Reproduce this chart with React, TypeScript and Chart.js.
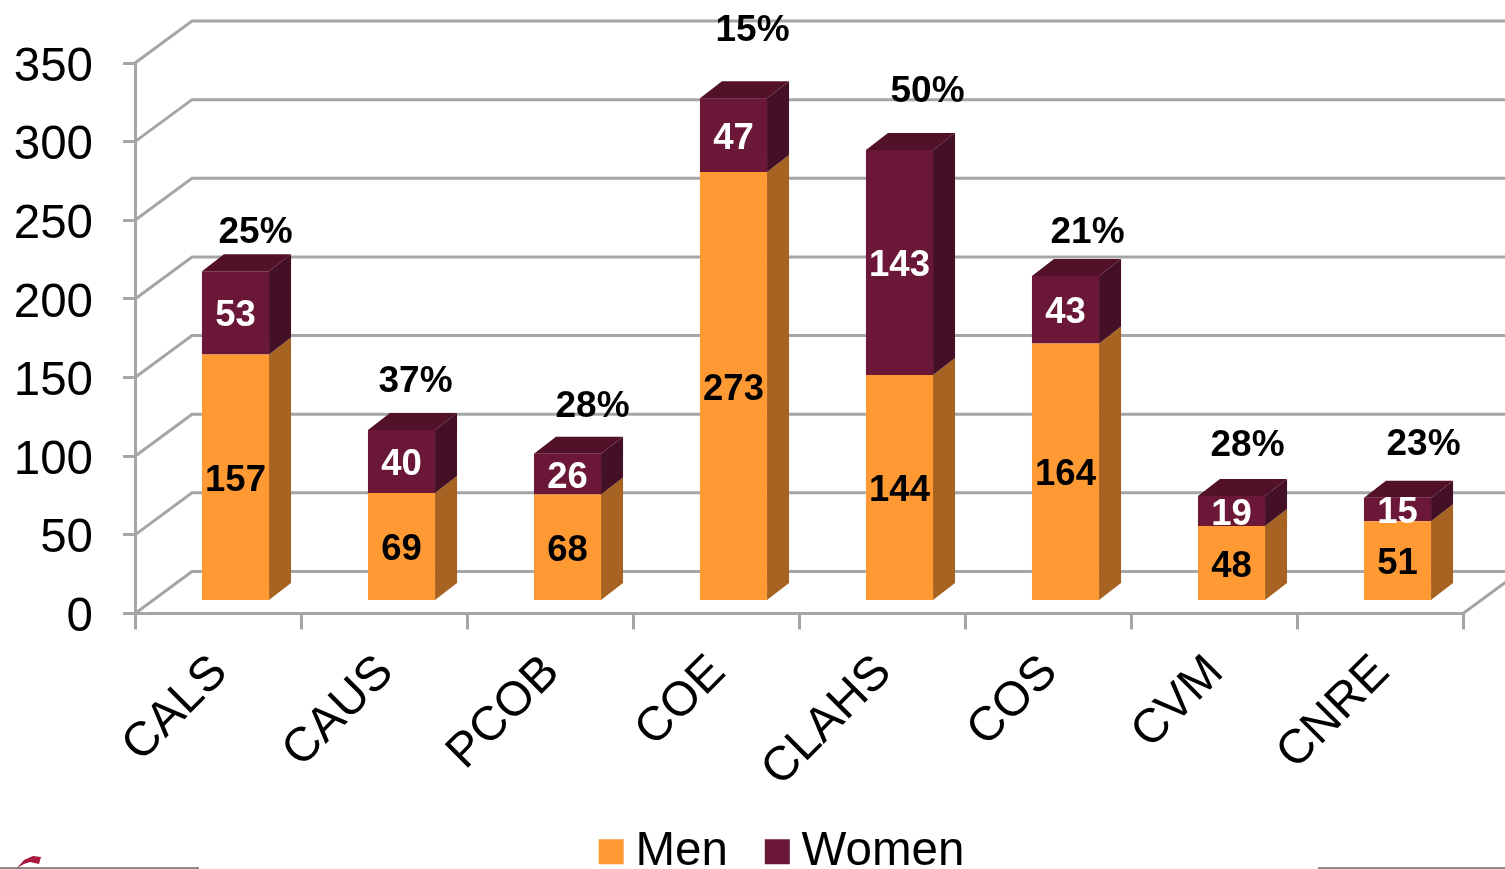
import React, { useEffect, useRef } from "react";
import { Chart, registerables } from "chart.js";

Chart.register(...registerables);

const categories = ["CALS", "CAUS", "PCOB", "COE", "CLAHS", "COS", "CVM", "CNRE"];
const men = [157, 69, 68, 273, 144, 164, 48, 51];
const women = [53, 40, 26, 47, 143, 43, 19, 15];
const womenShare = ["25%", "37%", "28%", "15%", "50%", "21%", "28%", "23%"];
// hand-placed share labels: offset from the back edge of each stack top
const shareOffsetX = [-2, -8, 3, -3, 6, 0, -6, 4];
const shareOffsetY = [-22, -32.5, -31, -51.5, -42.5, -27, -34.5, -37];

const FONT = '"Liberation Sans", Arial, sans-serif';
const GRID = "#A6A6A6";
const ORANGE = "#FF9933";
const ORANGE_SIDE = "#A66321";
const MAROON = "#6B1737";
const MAROON_SIDE = "#431026";
const MAROON_TOP = "#531129";

const WALL_DX = 57, WALL_DY = -42; // depth of the chart box
const BAR_SHIFT_X = 17.5, BAR_SHIFT_Y = -12; // bars stand inside the box
const BAR_DX = 22, BAR_DY = -17; // depth of a bar

function poly(ctx: CanvasRenderingContext2D, pts: number[][], fill: string) {
  ctx.beginPath();
  pts.forEach((p, i) => (i ? ctx.lineTo(p[0], p[1]) : ctx.moveTo(p[0], p[1])));
  ctx.closePath();
  ctx.fillStyle = fill;
  ctx.fill();
}

const box3d = {
  id: "box3d",
  afterLayout(chart: any) {
    // the legend sits off-centre, low on the page, over the foot of the x scale
    chart.legend.left = 112;
    chart.legend.top = 779;
    chart.legend.bottom = 887;
  },
  beforeDatasetsDraw(chart: any) {
    const { ctx, scales, chartArea } = chart;
    const y = scales.y;
    ctx.save();
    ctx.strokeStyle = GRID;
    ctx.lineWidth = 3;
    y.ticks.forEach((t: any) => {
      const py = y.getPixelForValue(t.value);
      ctx.beginPath();
      ctx.moveTo(chartArea.left, py);
      ctx.lineTo(chartArea.left + WALL_DX, py + WALL_DY);
      ctx.lineTo(chart.width + 2, py + WALL_DY);
      ctx.stroke();
    });
    // floor edge on the right side
    ctx.beginPath();
    ctx.moveTo(chartArea.right, chartArea.bottom);
    ctx.lineTo(chartArea.right + WALL_DX, chartArea.bottom + WALL_DY);
    ctx.stroke();
    ctx.restore();

    // side and top faces
    const m0 = chart.getDatasetMeta(0).data;
    const m1 = chart.getDatasetMeta(1).data;
    m0.forEach((bar0: any, i: number) => {
      const bar1 = m1[i];
      const r = bar0.x + bar0.width / 2 + BAR_SHIFT_X;
      const l = bar0.x - bar0.width / 2 + BAR_SHIFT_X;
      const yB = bar0.base + BAR_SHIFT_Y;
      const yM = bar0.y + BAR_SHIFT_Y;
      const yT = bar1.y + BAR_SHIFT_Y;
      poly(ctx, [[r, yB], [r + BAR_DX, yB + BAR_DY], [r + BAR_DX, yM + BAR_DY], [r, yM]], ORANGE_SIDE);
      poly(ctx, [[r, yM], [r + BAR_DX, yM + BAR_DY], [r + BAR_DX, yT + BAR_DY], [r, yT]], MAROON_SIDE);
      poly(ctx, [[l, yT], [r, yT], [r + BAR_DX, yT + BAR_DY], [l + BAR_DX, yT + BAR_DY]], MAROON_TOP);
    });
    ctx.save();
    ctx.translate(BAR_SHIFT_X, BAR_SHIFT_Y);
  },
  afterDatasetsDraw(chart: any) {
    const { ctx } = chart;
    ctx.restore();
    const m0 = chart.getDatasetMeta(0).data;
    const m1 = chart.getDatasetMeta(1).data;
    ctx.save();
    ctx.textAlign = "center";
    ctx.textBaseline = "middle";
    m0.forEach((bar0: any, i: number) => {
      const bar1 = m1[i];
      const cx = bar0.x + BAR_SHIFT_X;
      ctx.font = `bold 36.5px ${FONT}`;
      ctx.fillStyle = "#000";
      ctx.fillText(String(men[i]), cx, (bar0.y + bar0.base) / 2 + BAR_SHIFT_Y + 3.5);
      ctx.fillStyle = "#fff";
      ctx.fillText(String(women[i]), cx, (bar1.y + bar1.base) / 2 + BAR_SHIFT_Y + 3.5);
      ctx.font = `bold 37px ${FONT}`;
      ctx.fillStyle = "#000";
      ctx.fillText(
        womenShare[i],
        cx + BAR_DX + shareOffsetX[i],
        bar1.y + BAR_SHIFT_Y + BAR_DY + shareOffsetY[i] + 1
      );
    });
    ctx.restore();
  },
  afterDraw(chart: any) {
    // remnants of the slide footer at the bottom edge
    const { ctx } = chart;
    ctx.save();
    ctx.fillStyle = "#8C8C8C";
    ctx.fillRect(0, 867, 199, 2);
    ctx.fillRect(1318, 867, 187, 2);
    poly(ctx, [[17, 868], [24, 860], [33, 856], [41, 857], [39, 864], [30, 862], [24, 864]], "#A6193C");
    ctx.restore();
  },
};

export default function App() {
  const ref = useRef<HTMLCanvasElement>(null);
  useEffect(() => {
    document.body.style.margin = "0";
    document.body.style.overflow = "hidden";
    const chart = new Chart(ref.current!, {
      type: "bar",
      data: {
        labels: categories,
        datasets: [
          { label: "Men", data: men, backgroundColor: ORANGE, borderWidth: 0 },
          { label: "Women", data: women, backgroundColor: MAROON, borderWidth: 0 },
        ],
      },
      plugins: [box3d],
      options: {
        responsive: false,
        animation: false,
        devicePixelRatio: 1,
        layout: { padding: { left: 0, right: 42, top: 63, bottom: -41 } },
        datasets: { bar: { barPercentage: 0.404, categoryPercentage: 1 } },
        scales: {
          x: {
            stacked: true,
            afterFit: (s: any) => { s.height = 190; },
            grid: { drawOnChartArea: false, color: GRID, lineWidth: 3, tickLength: 16, tickColor: GRID },
            border: { color: GRID, width: 3 },
            ticks: { minRotation: 45, maxRotation: 45, padding: 15, labelOffset: 2, color: "#000", font: { family: FONT, size: 48 } },
          },
          y: {
            stacked: true,
            min: 0,
            max: 350,
            afterFit: (s: any) => { s.width = 135; },
            grid: { drawOnChartArea: false, color: GRID, lineWidth: 3, tickLength: 12, tickColor: GRID },
            border: { color: GRID, width: 3 },
            ticks: { stepSize: 50, padding: 30, labelOffset: 4.5, color: "#000", font: { family: FONT, size: 47.5 } },
          },
        },
        plugins: {
          tooltip: { enabled: false },
          legend: {
            position: "bottom",
            labels: {
              font: { family: FONT, size: 47.5 },
              color: "#000",
              boxWidth: 1,
              boxHeight: 1,
              padding: 49,
              generateLabels: () => [
                { text: "Men", fillStyle: ORANGE, strokeStyle: ORANGE, lineWidth: 24, datasetIndex: 0 },
                { text: "Women", fillStyle: MAROON, strokeStyle: MAROON, lineWidth: 24, datasetIndex: 1 },
              ],
            },
          },
        },
      } as any,
    });
    return () => chart.destroy();
  }, []);
  return <canvas ref={ref} width={1505} height={869} style={{ display: "block" }} />;
}
